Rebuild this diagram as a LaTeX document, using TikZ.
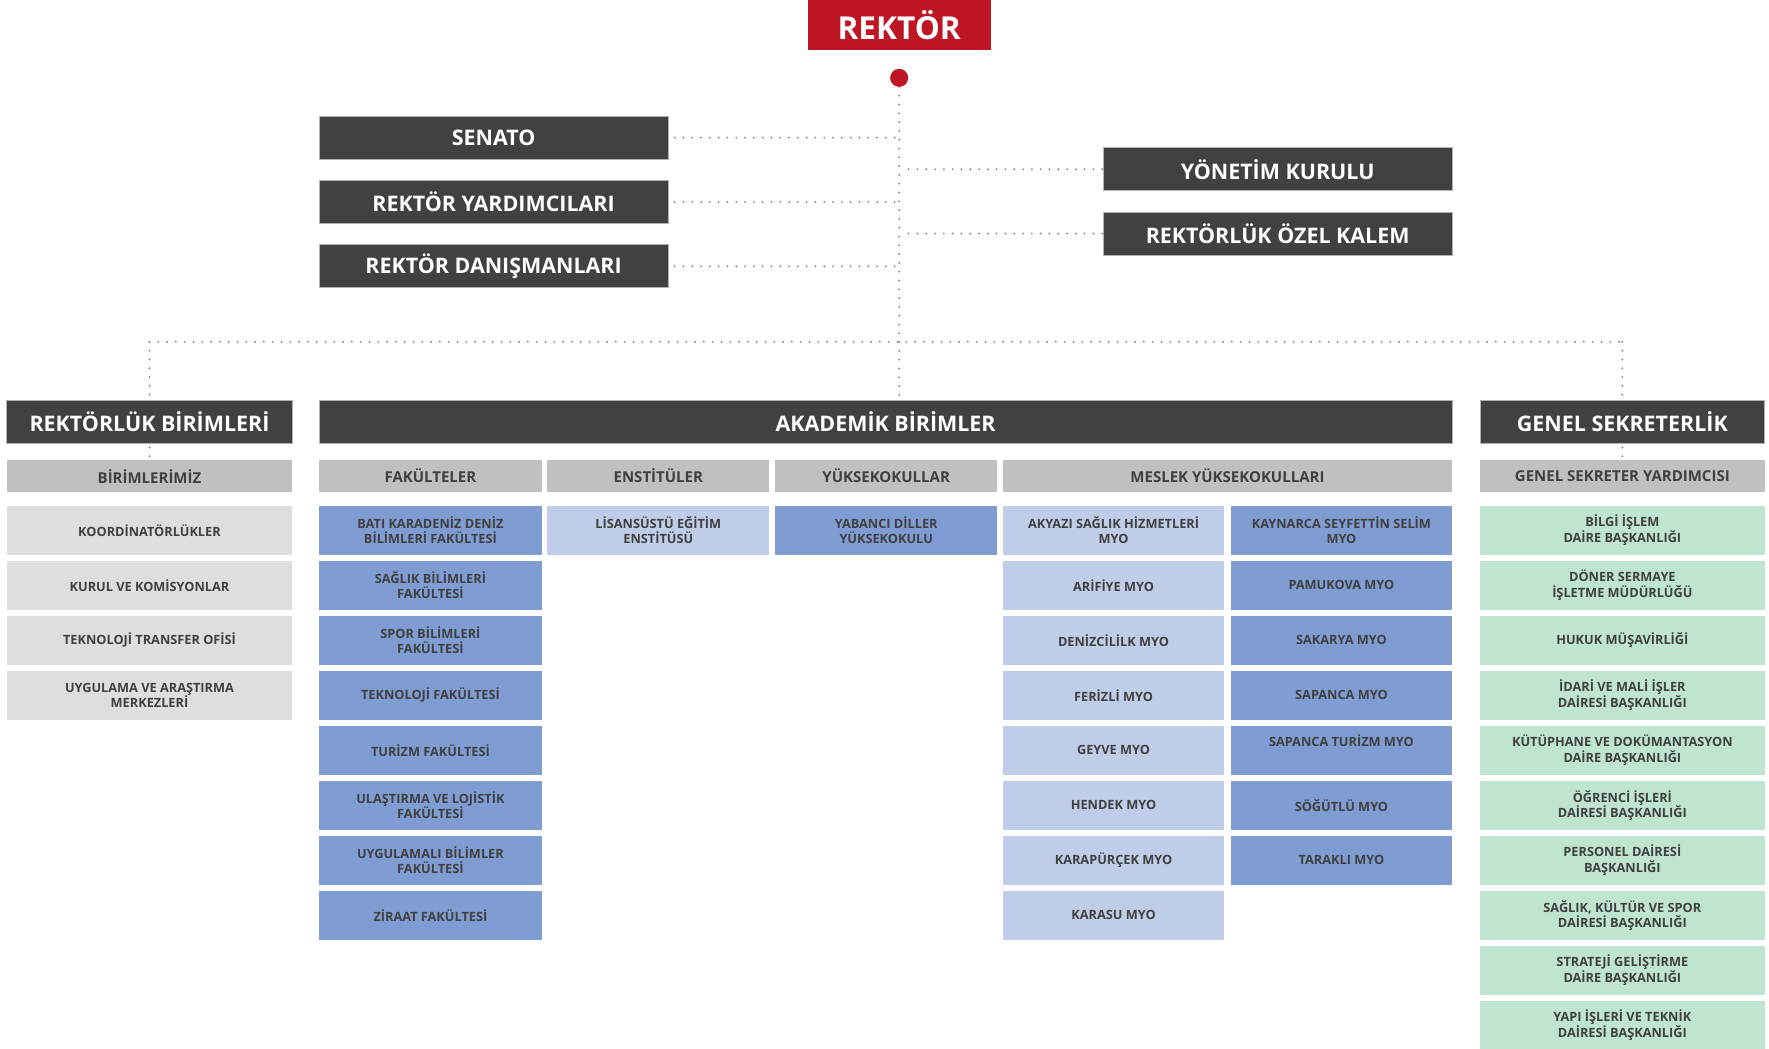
\documentclass[tikz,border=0pt]{standalone}
\usepackage{fontspec}
\setmainfont{Open Sans}
\usetikzlibrary{backgrounds}
\definecolor{rk}{RGB}{190,22,36}
\definecolor{dk}{RGB}{65,64,66}
\definecolor{hd}{RGB}{192,192,192}
\definecolor{lg}{RGB}{222,222,222}
\definecolor{mb}{RGB}{127,157,210}
\definecolor{lb}{RGB}{191,205,232}
\definecolor{gr}{RGB}{191,228,208}
\definecolor{tx}{RGB}{64,64,64}
\definecolor{dotc}{RGB}{125,125,125}
\begin{document}
\begin{tikzpicture}[x=1pt,y=-1pt,
  every node/.style={inner sep=0pt,outer sep=0pt},
  topbox/.style={anchor=north west,fill=dk,draw=gray!60,line width=0.6pt,text=white,minimum width=309pt,minimum height=38pt,font=\bfseries\fontsize{19}{22}\selectfont},
  lvbox/.style={anchor=north west,fill=dk,draw=gray!60,line width=0.6pt,text=white,minimum height=38pt,font=\bfseries\fontsize{19}{22}\selectfont},
  hdbox/.style={anchor=north west,fill=hd,text=tx,minimum height=28pt,font=\bfseries\fontsize{13.3}{16}\selectfont},
  item/.style={anchor=north west,text=tx,minimum height=43pt,align=center,font=\bfseries\fontsize{11.3}{13.6}\selectfont},
  wr/.style={minimum width=253pt},
  wf/.style={minimum width=197pt},
  wm/.style={minimum width=196pt},
  wg/.style={minimum width=252pt},
  cgray/.style={item,wr,fill=lg},
  cfak/.style={item,wf,fill=mb},
  cens/.style={item,wf,fill=lb},
  cmyl/.style={item,wm,fill=lb},
  cmyr/.style={item,wm,fill=mb},
  cgs/.style={item,wg,fill=gr},
  dotline/.style={draw=dotc,line width=1.8pt,line cap=round,dash pattern=on 0pt off 7.8pt}
]
\useasboundingbox (0,0) rectangle (1568,929);

% top
\node[anchor=north west,fill=rk,text=white,minimum width=162pt,minimum height=44pt,font=\bfseries\fontsize{28}{32}\selectfont] (rektor) at (716,0) {REKTÖR};
\node[circle,fill=rk,minimum size=16pt] (dot) at (797,69) {};

\node[topbox] (senato) at (283,103) {SENATO};
\node[topbox] (ryard) at (283,160) {REKTÖR YARDIMCILARI};
\node[topbox] (rdan) at (283,217) {REKTÖR DANIŞMANLARI};
\node[topbox] (ykur) at (978,131) {YÖNETİM KURULU};
\node[topbox] (rozel) at (978,188) {REKTÖRLÜK ÖZEL KALEM};

% level 2
\node[lvbox,minimum width=253pt] (rb) at (6,355) {REKTÖRLÜK BİRİMLERİ};
\node[lvbox,minimum width=1004pt] (ab) at (283,355) {AKADEMİK BİRİMLER};
\node[lvbox,minimum width=252pt] (gs) at (1312,355) {GENEL SEKRETERLİK};

% headers
\node[hdbox,wr] (hrb) at (6,408) {BİRİMLERİMİZ};
\node[hdbox,wf] (hfak) at (283,408) {FAKÜLTELER};
\node[hdbox,wf] (hens) at (485,408) {ENSTİTÜLER};
\node[hdbox,wf] (hyo) at (687,408) {YÜKSEKOKULLAR};
\node[hdbox,minimum width=398pt] (hmyo) at (889,408) {MESLEK YÜKSEKOKULLARI};
\node[hdbox,wg] (hgs) at (1312,408) {GENEL SEKRETER YARDIMCISI};

% rektorluk birimleri
\node[cgray] (r0) at (6,448.5) {KOORDİNATÖRLÜKLER};
\node[cgray] (r1) at (6,497.25) {KURUL VE KOMİSYONLAR};
\node[cgray] (r2) at (6,546) {TEKNOLOJİ TRANSFER OFİSİ};
\node[cgray] (r3) at (6,594.75) {UYGULAMA VE ARAŞTIRMA\\MERKEZLERİ};

% fakulteler
\node[cfak] (f0) at (283,448.5) {BATI KARADENİZ DENİZ\\BİLİMLERİ FAKÜLTESİ};
\node[cfak] (f1) at (283,497.25) {SAĞLIK BİLİMLERİ\\FAKÜLTESİ};
\node[cfak] (f2) at (283,546) {SPOR BİLİMLERİ\\FAKÜLTESİ};
\node[cfak] (f3) at (283,594.75) {TEKNOLOJİ FAKÜLTESİ};
\node[cfak] (f4) at (283,643.5) {TURİZM FAKÜLTESİ};
\node[cfak] (f5) at (283,692.25) {ULAŞTIRMA VE LOJİSTİK\\FAKÜLTESİ};
\node[cfak] (f6) at (283,741) {UYGULAMALI BİLİMLER\\FAKÜLTESİ};
\node[cfak] (f7) at (283,789.75) {ZİRAAT FAKÜLTESİ};

% enstitu, yuksekokul
\node[cens] (e0) at (485,448.5) {LİSANSÜSTÜ EĞİTİM\\ENSTİTÜSÜ};
\node[cfak] (y0) at (687,448.5) {YABANCI DİLLER\\YÜKSEKOKULU};

% myo left
\node[cmyl] (ml0) at (889,448.5) {AKYAZI SAĞLIK HİZMETLERİ\\MYO};
\node[cmyl] (ml1) at (889,497.25) {ARİFİYE MYO};
\node[cmyl] (ml2) at (889,546) {DENİZCİLİLK MYO};
\node[cmyl] (ml3) at (889,594.75) {FERİZLİ MYO};
\node[cmyl] (ml4) at (889,643.5) {GEYVE MYO};
\node[cmyl] (ml5) at (889,692.25) {HENDEK MYO};
\node[cmyl] (ml6) at (889,741) {KARAPÜRÇEK MYO};
\node[cmyl] (ml7) at (889,789.75) {KARASU MYO};

% myo right
\node[cmyr] (mr0) at (1091,448.5) {KAYNARCA SEYFETTİN SELİM\\MYO};
\node[cmyr] (mr1) at (1091,497.25) {PAMUKOVA MYO};
\node[cmyr] (mr2) at (1091,546) {SAKARYA MYO};
\node[cmyr] (mr3) at (1091,594.75) {SAPANCA MYO};
\node[cmyr] (mr4) at (1091,643.5) {SAPANCA TURİZM MYO\\\strut};
\node[cmyr] (mr5) at (1091,692.25) {SÖĞÜTLÜ MYO};
\node[cmyr] (mr6) at (1091,741) {TARAKLI MYO};

% genel sekreterlik
\node[cgs] (g0) at (1312,448.5) {BİLGİ İŞLEM\\DAİRE BAŞKANLIĞI};
\node[cgs] (g1) at (1312,497.25) {DÖNER SERMAYE\\İŞLETME MÜDÜRLÜĞÜ};
\node[cgs] (g2) at (1312,546) {HUKUK MÜŞAVİRLİĞİ};
\node[cgs] (g3) at (1312,594.75) {İDARİ VE MALİ İŞLER\\DAİRESİ BAŞKANLIĞI};
\node[cgs] (g4) at (1312,643.5) {KÜTÜPHANE VE DOKÜMANTASYON\\DAİRE BAŞKANLIĞI};
\node[cgs] (g5) at (1312,692.25) {ÖĞRENCİ İŞLERİ\\DAİRESİ BAŞKANLIĞI};
\node[cgs] (g6) at (1312,741) {PERSONEL DAİRESİ\\BAŞKANLIĞI};
\node[cgs] (g7) at (1312,789.75) {SAĞLIK, KÜLTÜR VE SPOR\\DAİRESİ BAŞKANLIĞI};
\node[cgs] (g8) at (1312,838.5) {STRATEJİ GELİŞTİRME\\DAİRE BAŞKANLIĞI};
\node[cgs] (g9) at (1312,887.25) {YAPI İŞLERİ VE TEKNİK\\DAİRESİ BAŞKANLIĞI};

\coordinate (bus) at (797,303);

\begin{scope}[on background layer]
  \draw[dotline] (dot.south) -- (dot |- ab.north);
  \draw[dotline] ([xshift=6pt]senato.east) -- (senato.east -| dot);
  \draw[dotline] ([xshift=6pt]ryard.east) -- (ryard.east -| dot);
  \draw[dotline] ([xshift=6pt]rdan.east) -- (rdan.east -| dot);
  \draw[dotline] ([xshift=-1pt]ykur.west) -- ([xshift=6pt]ykur.west -| dot);
  \draw[dotline] ([xshift=-1pt]rozel.west) -- ([xshift=6pt]rozel.west -| dot);
  \draw[dotline] (rb.north |- bus) -- (gs.north |- bus);
  \draw[dotline] (rb.north |- bus) -- (hrb.north);
  \draw[dotline] (gs.north |- bus) -- (hgs.north);
\end{scope}
\end{tikzpicture}
\end{document}
